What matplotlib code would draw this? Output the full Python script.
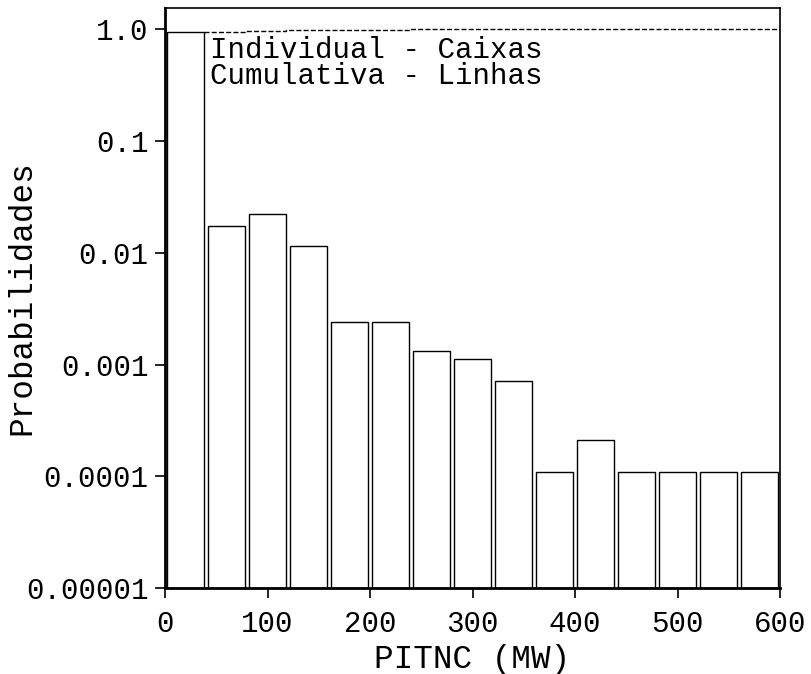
import matplotlib
matplotlib.use("Agg")
import matplotlib.pyplot as plt
import numpy as np

# Data
bin_centers = [20, 60, 100, 140, 180, 220, 260, 300, 340, 380, 420, 460, 500, 540, 580]
probabilities = [0.9404, 0.0173, 0.0222, 0.0115, 0.0024, 0.0024, 0.0013, 0.0011,
                 0.0007, 0.0001, 0.0002, 0.0001, 0.0001, 0.0001, 0.0001]
ytick_vals = [1e-5, 1e-4, 1e-3, 1e-2, 1e-1, 1.0]
ytick_labels = ["0.00001", "0.0001", "0.001", "0.01", "0.1", "1.0"]
xtick_vals = [0, 100, 200, 300, 400, 500, 600]

font = "Liberation Mono"
plt.rcParams['font.family'] = [font, 'DejaVu Sans Mono']

fig = plt.figure(figsize=(8.11, 6.74), dpi=100)
ax = fig.add_axes([165/811, 1-588/674, (780-165)/811, (588-8)/674])

bar_width = 36.5
ax.bar(bin_centers, probabilities, width=bar_width, bottom=1e-5,
       color="white", edgecolor="black", linewidth=1.0, zorder=2)

# cumulative line (dashed)
cum = np.cumsum(probabilities)
cum = cum / cum[-1]
right_edges = [c + bar_width/2 for c in bin_centers]
xs = right_edges[:-1] + [600]
ax.step(xs, cum, where='post', color="black", linestyle=(0, (3.6, 1.6)),
        linewidth=1.0, zorder=3)

ax.set_yscale("log")
ax.set_xlim(0, 600)
ax.set_ylim(1e-5, 1.55)
ax.set_yticks(ytick_vals)
ax.set_yticklabels(ytick_labels)
ax.yaxis.set_minor_locator(matplotlib.ticker.NullLocator())
ax.set_xticks(xtick_vals)

for s in ["left", "bottom"]:
    ax.spines[s].set_linewidth(2.0)
for s in ["top", "right"]:
    ax.spines[s].set_linewidth(1.2)

ax.tick_params(axis="both", direction="out", length=7, width=1.2,
               labelsize=21)
ax.tick_params(axis="y", pad=5)
ax.tick_params(axis="x", pad=9)

ax.set_xlabel("PITNC (MW)", fontsize=23.5, labelpad=4)
ax.set_ylabel("Probabilidades", fontsize=23.5)
ax.yaxis.set_label_coords((37-165)/615, 0.5)

ax.text(0.073, 0.952, "Individual - Caixas", transform=ax.transAxes,
        fontsize=21, va="top", ha="left")
ax.text(0.073, 0.907, "Cumulativa - Linhas", transform=ax.transAxes,
        fontsize=21, va="top", ha="left")

fig.savefig("out.png", dpi=100)
